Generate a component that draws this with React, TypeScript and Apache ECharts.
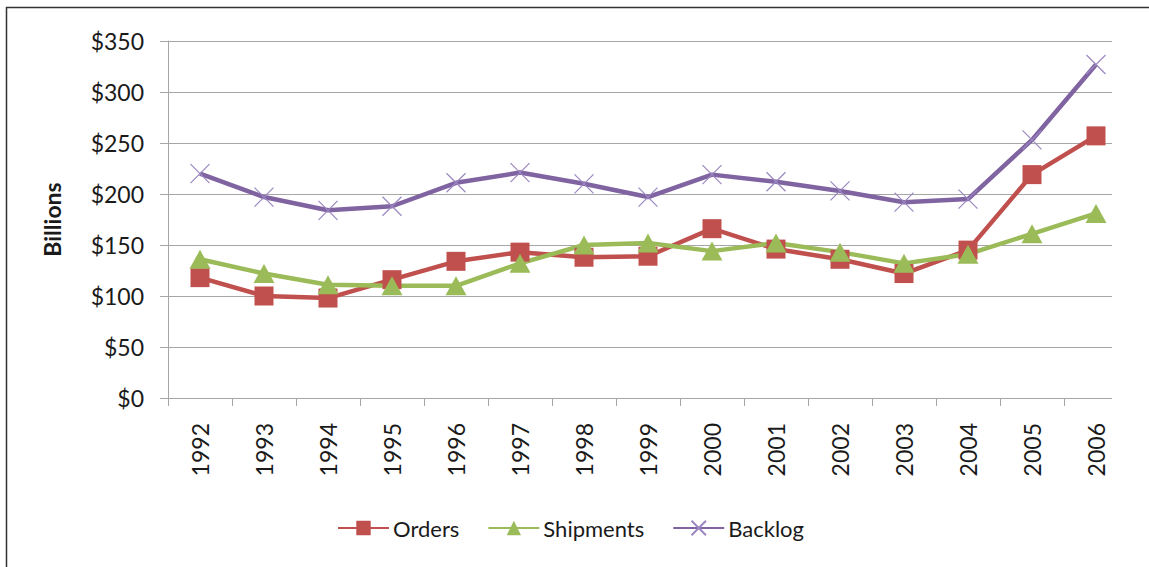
import React, { useEffect, useRef } from "react";
import * as echarts from "echarts";

const years = ["1992","1993","1994","1995","1996","1997","1998","1999","2000","2001","2002","2003","2004","2005","2006"];
const orders = [118, 100, 98, 116, 134, 143, 138, 139, 166, 146, 136, 122, 145, 219, 257];
const shipments = [136, 122, 111, 110, 110, 132, 150, 152, 144, 152, 143, 132, 141, 161, 181];
const backlog = [220, 197, 184, 188, 211, 221, 210, 197, 219, 212, 203, 192, 195, 253, 327];
const yTicks = { min: 0, max: 350, interval: 50 };

const FONT = "Lato";
const GRID = "#A6A6A6";
const TEXT = "#1a1a1a";
const CROSS = "path://M0,0L10,10M10,0L0,10";

export default function App() {
  const ref = useRef<HTMLDivElement>(null);
  useEffect(() => {
    if (!ref.current) return;
    const chart = echarts.init(ref.current, undefined, { renderer: "svg" });
    chart.setOption({
      animation: false,
      backgroundColor: "#ffffff",
      textStyle: { fontFamily: FONT, color: TEXT },
      grid: { left: 168, right: 21, top: 41, bottom: 169 },
      legend: {
        left: 332,
        top: 512,
        itemWidth: 51,
        itemHeight: 18,
        itemGap: 28,
        textStyle: { fontFamily: FONT, fontSize: 22, color: TEXT, padding: [0, 0, 0, -1] },
        data: ["Orders", "Shipments", "Backlog"],
      },
      xAxis: {
        type: "category",
        data: years,
        boundaryGap: true,
        axisLine: { lineStyle: { color: GRID, width: 1 } },
        axisTick: { show: true, length: 8, lineStyle: { color: GRID } },
        axisLabel: { rotate: 90, margin: 25, fontSize: 23, color: TEXT, fontFamily: FONT },
        splitLine: { show: false },
      },
      yAxis: {
        type: "value",
        min: yTicks.min,
        max: yTicks.max,
        interval: yTicks.interval,
        name: "Billions",
        nameLocation: "middle",
        nameGap: 105,
        nameTextStyle: { fontFamily: FONT, fontSize: 23, fontWeight: "bold", color: TEXT },
        axisLine: { show: true, lineStyle: { color: GRID, width: 1 } },
        axisTick: { show: true, length: 8, lineStyle: { color: GRID } },
        axisLabel: { margin: 24, fontSize: 23, color: TEXT, fontFamily: FONT, formatter: (v: number) => "$" + v },
        splitLine: { show: true, lineStyle: { color: GRID, width: 1 } },
      },
      series: [
        {
          name: "Orders",
          type: "line",
          data: orders,
          symbol: "rect",
          symbolSize: 19,
          lineStyle: { color: "#C0504D", width: 4.5 },
          itemStyle: { color: "#C0504D" },
        },
        {
          name: "Shipments",
          type: "line",
          data: shipments,
          symbol: "triangle",
          symbolSize: [21, 19],
          lineStyle: { color: "#9BBB59", width: 4.5 },
          itemStyle: { color: "#9BBB59" },
        },
        {
          name: "Backlog",
          type: "line",
          data: backlog,
          symbol: CROSS,
          symbolSize: 19,
          lineStyle: { color: "#8064A2", width: 4.5 },
          itemStyle: { color: "transparent", borderColor: "#9B87C0", borderWidth: 1.2 },
        },
      ],
      graphic: [
        { type: "rect", z: 100, shape: { x: 1112, y: 30, width: 30, height: 385 }, style: { fill: "#ffffff" } },
        { type: "line", z: 100, shape: { x1: 6, y1: 7.5, x2: 1149, y2: 7.5 }, style: { stroke: "#333333", lineWidth: 1.5 } },
        { type: "line", z: 100, shape: { x1: 6.5, y1: 7, x2: 6.5, y2: 567 }, style: { stroke: "#333333", lineWidth: 1.5 } },
      ],
    });
    return () => chart.dispose();
  }, []);
  return <div ref={ref} style={{ position: "fixed", left: 0, top: 0, width: 1149, height: 567 }} />;
}
